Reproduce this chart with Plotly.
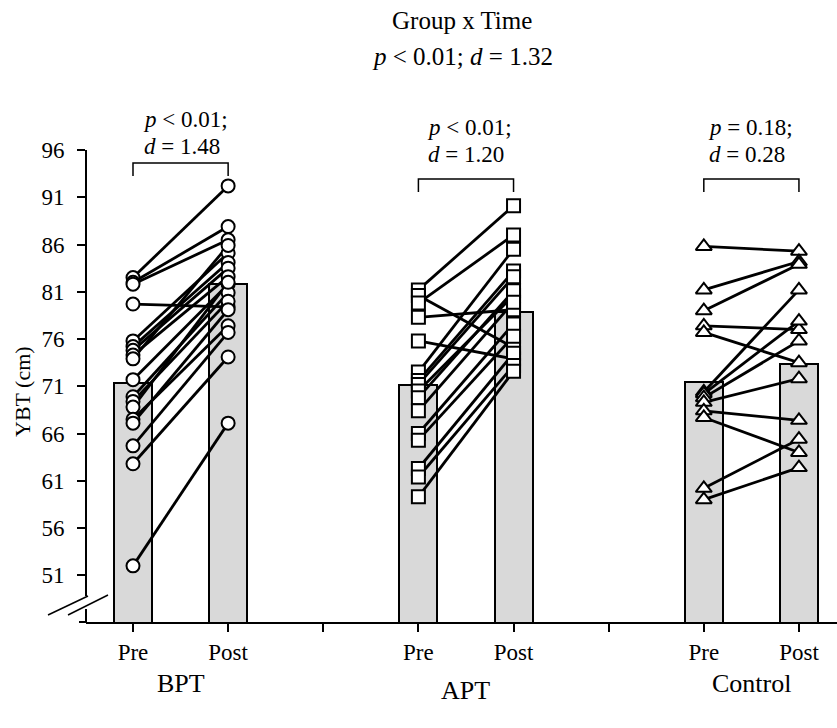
import plotly.graph_objects as go

# ---------------- data ----------------
groups = ["BPT", "APT", "Control"]
time_labels = ["Pre", "Post"]
group_x = [0, 3, 6]          # x position of "Pre" for each group; "Post" = +1

bar_pre = [71.3, 71.1, 71.5]
bar_post = [81.8, 78.9, 73.4]

bpt_pre = [82.5, 82.0, 81.8, 79.7, 75.8, 75.2, 74.8, 74.3, 73.9, 71.7, 69.9, 69.4, 68.8, 67.5, 67.1, 64.7, 62.8, 52.0]
bpt_post = [92.2, 87.9, 86.5, 79.4, 85.1, 84.1, 83.5, 82.6, 85.9, 81.8, 80.9, 80.0, 82.0, 77.4, 79.1, 76.7, 74.1, 67.1]

apt_pre = [81.2, 80.6, 79.8, 78.3, 75.8, 72.5, 71.6, 71.2, 70.5, 69.8, 68.4, 66.0, 65.3, 62.3, 61.4, 59.3]
apt_post = [90.1, 75.1, 87.0, 79.1, 73.9, 85.5, 83.2, 82.6, 80.6, 81.1, 79.9, 77.6, 76.3, 74.5, 73.2, 72.6]

ctl_pre = [85.8, 81.2, 79.0, 77.4, 76.7, 70.4, 70.2, 69.8, 69.3, 68.4, 67.7, 60.2, 59.0]
ctl_post = [85.3, 84.2, 83.9, 77.0, 73.5, 81.2, 77.9, 75.8, 71.8, 67.4, 64.0, 65.4, 62.4]

symbols = ["circle", "square", "triangle-up"]
stats_p = ["<i>p</i> &lt; 0.01;", "<i>p</i> &lt; 0.01;", "<i>p</i> = 0.18;"]
stats_d = ["<i>d</i> = 1.48", "<i>d</i> = 1.20", "<i>d</i> = 0.28"]

y_ticks = [51, 56, 61, 66, 71, 76, 81, 86, 91, 96]
y_range = [46.06, 96]
x_range = [-0.494, 7.4]

FONT = "Liberation Serif"
GRAY = "#d9d9d9"

pairs = [(bpt_pre, bpt_post), (apt_pre, apt_post), (ctl_pre, ctl_post)]

fig = go.Figure()

# bars
bx, by = [], []
for gi, gx in enumerate(group_x):
    bx += [gx, gx + 1]
    by += [bar_pre[gi], bar_post[gi]]
fig.add_trace(go.Bar(x=bx, y=by, width=0.4, marker=dict(color=GRAY, line=dict(color="black", width=2)),
                     showlegend=False, hoverinfo="skip"))

# connecting lines
for gi, gx in enumerate(group_x):
    pre, post = pairs[gi]
    lx, ly = [], []
    for a, b in zip(pre, post):
        lx += [gx, gx + 1, None]
        ly += [a, b, None]
    fig.add_trace(go.Scatter(x=lx, y=ly, mode="lines", line=dict(color="black", width=2.8),
                             showlegend=False, hoverinfo="skip"))

# markers
for gi, gx in enumerate(group_x):
    pre, post = pairs[gi]
    mx = [gx] * len(pre) + [gx + 1] * len(post)
    my = list(pre) + list(post)
    size = 13 if symbols[gi] != "triangle-up" else 14
    fig.add_trace(go.Scatter(x=mx, y=my, mode="markers",
                             marker=dict(symbol=symbols[gi], size=size, color="white",
                                         line=dict(color="black", width=2)),
                             showlegend=False, hoverinfo="skip"))

# geometry helpers (pixel -> paper)
W, H = 837, 728
L, R, T, B = 86, 0, 150, 106
PW, PH = W - L - R, H - T - B


def px(xp):
    return (xp - L) / PW


def py(yp):
    return (H - B - yp) / PH


def dx(v):
    return (v - x_range[0]) / (x_range[1] - x_range[0])


shapes = []
line = dict(color="black", width=2)
# broken y axis
shapes.append(dict(type="line", xref="paper", yref="paper", x0=0, x1=0, y0=1, y1=py(596), line=line))
shapes.append(dict(type="line", xref="paper", yref="paper", x0=0, x1=0, y0=py(609), y1=0, line=line))
shapes.append(dict(type="line", xref="paper", yref="paper", x0=px(48), x1=px(88), y0=py(615), y1=py(596), line=dict(color="black", width=1.5)))
shapes.append(dict(type="line", xref="paper", yref="paper", x0=px(68), x1=px(108), y0=py(615), y1=py(595), line=dict(color="black", width=1.5)))
shapes.append(dict(type="line", xref="paper", yref="paper", x0=px(79), x1=0, y0=0, y1=0, line=line))

# brackets
bracket_y = [163, 179, 179]
for gi, gx in enumerate(group_x):
    x0, x1 = dx(gx), dx(gx + 1)
    yt, yb = py(bracket_y[gi]), py(bracket_y[gi] + 13)
    shapes.append(dict(type="path", xref="paper", yref="paper",
                       path=f"M {x0},{yb} L {x0},{yt} L {x1},{yt} L {x1},{yb}",
                       line=dict(color="black", width=1.5)))

annotations = []


def ann(x, y, text, size, xanchor="center", **kw):
    annotations.append(dict(xref="paper", yref="paper", x=x, y=y, text=text, showarrow=False,
                            xanchor=xanchor, yanchor="middle",
                            font=dict(family=FONT, size=size, color="black"), **kw))


# title
ann(px(462), py(20), "Group x Time", 25)
ann(px(462), py(56), "<i>p</i> &lt; 0.01; <i>d</i> = 1.32", 25)
# stats per group
text_left = [141, 425, 706]
text_y = [(120, 147), (127, 154), (127, 154)]
for gi in range(3):
    ann(px(text_left[gi]), py(text_y[gi][0]), stats_p[gi], 23, xanchor="left")
    ann(px(text_left[gi] + 1), py(text_y[gi][1]), stats_d[gi], 23, xanchor="left")
# group labels
group_y = [683, 690, 683]
for gi, gx in enumerate(group_x):
    ann(dx(gx + 0.5), py(group_y[gi]), groups[gi], 26)
# y title
ann(px(22), py(392), "YBT (cm)", 22, textangle=-90)

fig.update_layout(
    width=W, height=H,
    margin=dict(l=L, r=R, t=T, b=B, pad=0),
    paper_bgcolor="white", plot_bgcolor="white",
    shapes=shapes, annotations=annotations,
    showlegend=False, bargap=0,
)
fig.update_xaxes(range=x_range, tickvals=list(range(8)),
                 ticktext=[time_labels[0], time_labels[1], "", time_labels[0], time_labels[1], "", time_labels[0], time_labels[1]],
                 ticks="outside", ticklen=8, tickwidth=2, tickcolor="black",
                 showline=True, linewidth=2, linecolor="black", showgrid=False, zeroline=False,
                 tickfont=dict(family=FONT, size=23, color="black"))
fig.update_yaxes(range=y_range, tickvals=y_ticks, ticks="outside", ticklen=8, tickwidth=2, tickcolor="black",
                 showline=False, showgrid=False, zeroline=False, ticklabelstandoff=8,
                 tickfont=dict(family=FONT, size=23, color="black"))

fig.write_html("out.html", config={"displayModeBar": False},
               post_script="document.body.style.margin='0';document.body.style.overflow='hidden';")
